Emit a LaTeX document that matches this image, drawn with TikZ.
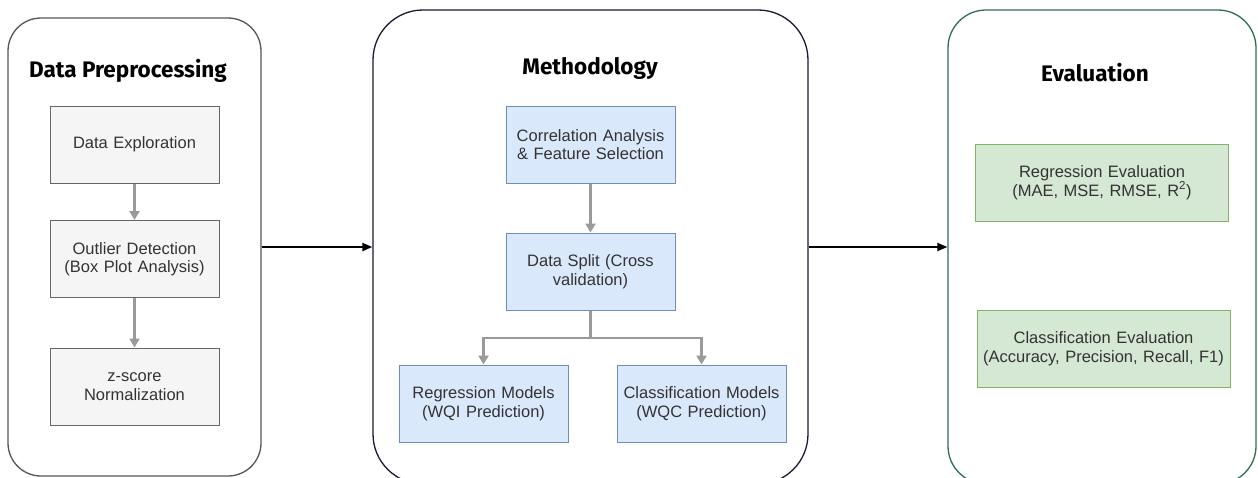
\documentclass[tikz,border=0pt]{standalone}
\usepackage{fontspec}
\setmainfont{Liberation Sans}
\newfontfamily\titlefont{Fira Sans}
\usetikzlibrary{arrows.meta}
\definecolor{txtgray}{HTML}{333333}
\definecolor{grayfill}{HTML}{F5F5F5}
\definecolor{grayline}{HTML}{666666}
\definecolor{bluefill}{HTML}{DAE8FC}
\definecolor{blueline}{HTML}{6C8EBF}
\definecolor{greenfill}{HTML}{D5E8D4}
\definecolor{greenline}{HTML}{82B366}
\definecolor{contgreen}{HTML}{2F6F4F}
\definecolor{contnavy}{HTML}{1A1A33}
\definecolor{contgray}{HTML}{555555}
\definecolor{arrgray}{HTML}{9A9A9A}
\begin{document}
\begin{tikzpicture}[x=1pt,y=-1pt,
  container/.style={rectangle, draw, line width=1.3pt, fill=white, inner sep=0pt},
  stepbox/.style={rectangle, draw, line width=1pt, inner sep=0pt, align=center,
    minimum height=77pt, text=txtgray, font=\fontsize{16.5}{18.5}\selectfont},
  graybox/.style={stepbox, fill=grayfill, draw=grayline, minimum width=169pt, text width=165pt},
  bluebox/.style={stepbox, fill=bluefill, draw=blueline, minimum width=169pt, text width=165pt},
  greenbox/.style={stepbox, fill=greenfill, draw=greenline, minimum width=253pt, text width=250pt},
  title/.style={font=\titlefont\bfseries\fontsize{22.5}{26}\selectfont, text=black, inner sep=0pt},
  grayarrow/.style={draw=arrgray, line width=2.6pt, -{Triangle[length=9pt,width=10pt]}},
  grayline/.style={draw=arrgray, line width=2.6pt},
  bigarrow/.style={draw=black, line width=2pt, -{Triangle[length=10pt,width=8pt]}}
]
\useasboundingbox (0,0) rectangle (1258,477);
\clip (0,0) rectangle (1258,477);
\fill[white] (0,0) rectangle (1258,477);

% containers
\node[container, draw=contgray, rounded corners=33pt, minimum width=253pt, minimum height=458pt] (pre) at (134.5,247) {};
\node[container, draw=contnavy, rounded corners=50pt, minimum width=435pt, minimum height=474pt] (meth) at (590.5,247) {};
\node[container, draw=contgreen, rounded corners=38pt, minimum width=308pt, minimum height=474pt] (eval) at (1102,247) {};

% titles
\node[title] (t1) at (128,71) {Data Preprocessing};
\node[title] (t2) at (590,68) {Methodology};
\node[title] (t3) at (1095,73) {Evaluation};

% preprocessing boxes
\node[graybox] (explore) at (134.5,144.5) {Data Exploration};
\node[graybox] (outlier) at (134.5,259) {Outlier Detection\\(Box Plot Analysis)};
\node[graybox] (zscore) at (134.5,386.5) {z-score\\Normalization};

% methodology boxes
\node[bluebox] (corr) at (590.5,144.5) {Correlation Analysis\\\& Feature Selection};
\node[bluebox] (split) at (590.5,271.5) {Data Split (Cross\\validation)};
\node[bluebox] (regm) at (483.5,403.5) {Regression Models\\(WQI Prediction)};
\node[bluebox] (clsm) at (701.5,403.5) {Classification Models\\(WQC Prediction)};

% evaluation boxes
\node[greenbox] (rege) at (1102,182.5) {Regression Evaluation\\(MAE, MSE, RMSE, R\textsuperscript{2})};
\node[greenbox] (clse) at (1103.5,348.5) {Classification Evaluation\\(Accuracy, Precision, Recall, F1)};

% internal arrows
\draw[grayarrow] (explore) -- (outlier);
\draw[grayarrow] (outlier) -- (zscore);
\draw[grayarrow] (corr) -- (split);
\coordinate (fork) at (590.5,338);
\draw[grayline] (split.south) -- (fork);
\draw[grayarrow] (fork) -| (regm.north);
\draw[grayarrow] (fork) -| (clsm.north);

% container arrows
\draw[bigarrow] (pre.east) -- (meth.west);
\draw[bigarrow] (meth.east) -- (eval.west);
\end{tikzpicture}
\end{document}
